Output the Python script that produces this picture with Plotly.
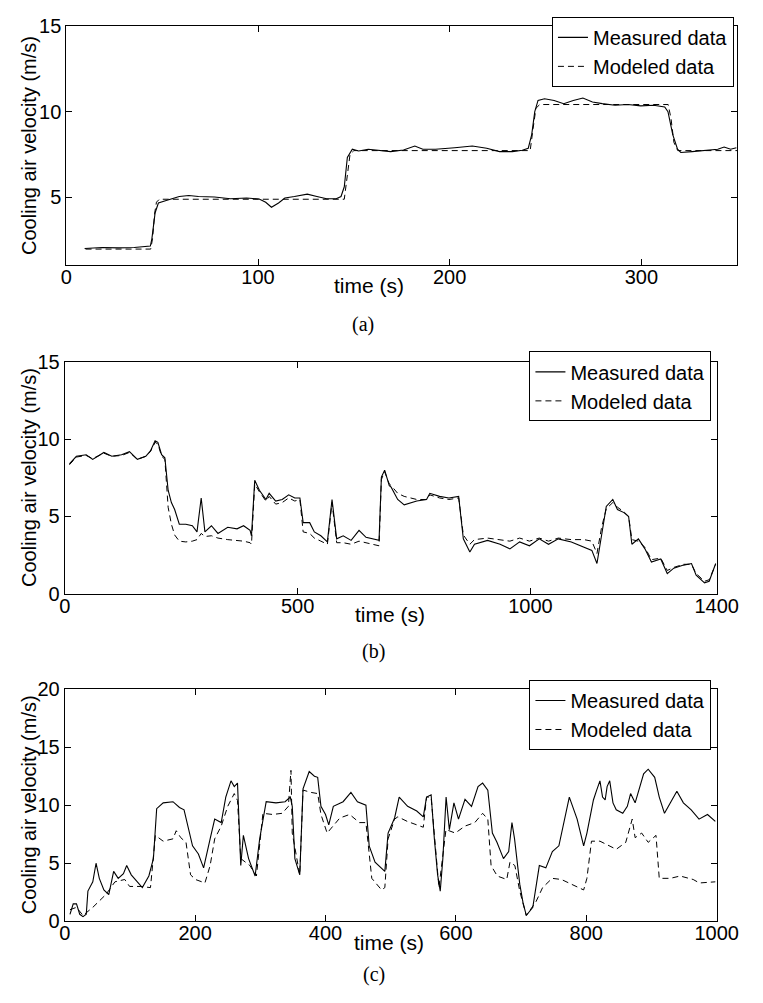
import plotly.graph_objects as go

W, H = 763, 1003

# ---------------- Panel (a) ----------------
t_a_meas = [9.5, 18.7, 27, 35.4, 43.8, 44.6, 46.3, 48, 52.1, 58.9, 63.9, 68.9, 77.3, 85.6, 94,
            100.6, 104, 107, 110.7, 114, 119, 125.7, 130.7, 135.8, 140.8, 143.3, 145, 146.6,
            149.2, 152.5, 157.5, 164, 169.2, 175.9, 181.8, 186, 192.6, 202.6, 211.8, 219.3, 226,
            232.7, 237.9, 241, 242.8, 244.4, 246.1, 249.5, 254.5, 259.5, 264.5, 269.5, 274.5,
            279.6, 286.3, 293, 299.7, 306.4, 312.2, 313.9, 316.4, 318.9, 320.6, 326.5, 333.2,
            339.9, 343.2, 346.6, 349.6]
v_a_meas = [1.98, 2.04, 2.02, 2.04, 2.13, 2.55, 4.08, 4.65, 4.8, 5.03, 5.09, 5.03, 5.0, 4.9, 4.94,
            4.88, 4.69, 4.4, 4.65, 4.94, 5.03, 5.17, 5.03, 4.9, 4.9, 5.03, 5.6, 7.32,
            7.8, 7.7, 7.8, 7.74, 7.66, 7.76, 7.99, 7.8, 7.8, 7.89, 7.99, 7.86, 7.66,
            7.66, 7.74, 7.86, 8.66, 10.0, 10.66, 10.76, 10.66, 10.47, 10.66, 10.8, 10.57,
            10.47, 10.38, 10.42, 10.34, 10.38, 10.28, 10.0, 8.66, 7.8, 7.61, 7.66, 7.74,
            7.8, 7.93, 7.8, 7.89]
t_a_mod = [10, 44, 45, 46, 47, 48.5, 145, 146.5, 148, 150, 242, 243.5, 245, 247, 314, 315.5, 317, 319, 350]
v_a_mod = [1.95, 1.95, 2.6, 4.0, 4.7, 4.87, 4.87, 6.2, 7.5, 7.72, 7.72, 9.0, 10.2, 10.42, 10.42, 9.6, 8.2, 7.72, 7.72]

# ---------------- Panel (b) ----------------
t_b = [10, 25, 46, 60, 84, 101, 122, 139, 156, 174,
       184, 194, 200, 208, 215, 222, 229, 236, 246, 260,
       274, 284, 293, 301, 315, 329, 350, 370, 384, 398,
       401, 408, 418, 432, 439, 453, 467, 481, 494, 505,
       512, 526, 536, 550, 564, 574, 584, 598, 615, 632,
       647, 661, 675, 680, 687, 697, 701, 715, 729, 756,
       777, 784, 805, 825, 846, 849, 856, 870, 880, 908,
       935, 956, 977, 998, 1019, 1039, 1060, 1088, 1115, 1132,
       1143, 1153, 1163, 1177, 1187, 1201, 1211, 1218, 1232, 1246,
       1260, 1280, 1294, 1308, 1329, 1346, 1356, 1374, 1384, 1398]
v_b_meas = [8.4, 8.9, 9.0, 8.7, 9.15, 8.9, 9.0, 9.2, 8.7, 8.9,
            9.25, 9.9, 9.8, 9.0, 8.8, 6.7, 5.9, 5.45, 4.5, 4.5,
            4.4, 4.0, 6.2, 4.0, 4.4, 3.9, 4.3, 4.2, 4.4, 4.1,
            3.75, 7.35, 6.7, 6.1, 6.5, 6.0, 6.1, 6.4, 6.2, 6.2,
            4.6, 4.6, 4.0, 3.75, 3.35, 6.1, 3.55, 3.75, 3.45, 4.1,
            3.65, 3.55, 3.45, 7.55, 8.0, 7.0, 6.9, 6.1, 5.75, 6.0,
            6.1, 6.5, 6.3, 6.2, 6.3, 5.45, 3.55, 2.7, 3.2, 3.45,
            3.2, 2.9, 3.35, 3.1, 3.55, 3.2, 3.55, 3.35, 3.0, 2.8,
            1.95, 3.95, 5.65, 6.1, 5.45, 5.25, 5.0, 3.2, 3.55, 2.9,
            2.05, 2.25, 1.3, 1.65, 1.85, 1.95, 1.2, 0.7, 0.8, 1.95]
v_b_mod = [8.35, 8.85, 8.95, 8.75, 9.1, 8.9, 8.95, 9.15, 8.7, 8.9,
           9.2, 9.8, 9.7, 8.9, 8.7, 5.6, 4.5, 3.8, 3.4, 3.35,
           3.4, 3.5, 3.9, 3.7, 3.75, 3.6, 3.5, 3.45, 3.4, 3.3,
           3.2, 7.1, 6.6, 6.0, 6.3, 5.8, 5.9, 6.2, 6.0, 6.1,
           4.0, 3.9, 3.6, 3.4, 3.2, 5.9, 3.3, 3.3, 3.2, 3.4,
           3.3, 3.2, 3.1, 7.4, 7.9, 7.1, 7.0, 6.5, 6.3, 6.1,
           6.1, 6.4, 6.2, 6.1, 6.2, 5.5, 3.8, 3.2, 3.5, 3.6,
           3.5, 3.4, 3.6, 3.4, 3.6, 3.4, 3.6, 3.5, 3.5, 3.4,
           2.6, 4.3, 5.5, 5.9, 5.6, 5.3, 5.0, 3.5, 3.4, 3.0,
           2.2, 2.3, 1.5, 1.7, 1.9, 1.9, 1.3, 0.8, 0.9, 1.9]

# ---------------- Panel (c) ----------------
t_c_meas = [8, 13, 18, 23, 28, 33, 35.5, 43, 48, 53,
            60, 67.5, 75, 82, 90, 95, 102, 112, 119, 129,
            136, 141, 151, 166, 176, 183, 188, 196, 205, 213,
            223, 230, 240, 247, 255, 260, 265, 270, 274, 282,
            292, 299, 309, 324, 338, 346, 349, 353, 360.5, 365.5,
            375, 383, 388, 393, 400, 405, 412, 427, 439, 449,
            462, 467, 476, 484, 491, 496, 506, 513, 526, 540,
            550, 555, 562, 567, 572, 576, 580, 585, 590, 597,
            604, 614, 624, 634, 641, 649, 656, 663, 673, 681,
            686, 690, 698, 703, 708, 718, 728, 738, 748, 758,
            767, 774, 786, 796, 801, 811, 816, 821, 825, 829,
            832, 836, 841, 846, 856, 863, 868, 875, 888, 895,
            905, 912, 920, 929, 939, 949, 961, 973, 986, 998]
v_c_meas = [0.6, 1.5, 1.5, 0.6, 0.4, 0.6, 2.6, 3.4, 5.0, 3.7,
            2.7, 2.3, 4.3, 3.7, 4.1, 4.8, 4.0, 3.4, 2.9, 3.9,
            5.4, 9.7, 10.2, 10.3, 9.8, 9.6, 8.5, 6.5, 5.8, 4.6,
            7.1, 8.8, 8.5, 10.7, 12.1, 11.6, 11.9, 4.8, 7.4, 5.4,
            3.9, 7.1, 10.3, 10.2, 10.3, 10.7, 9.9, 5.4, 4.0, 11.4,
            12.9, 12.5, 12.4, 9.9, 9.2, 8.3, 9.9, 10.3, 11.1, 10.3,
            10.0, 6.5, 5.1, 4.7, 4.3, 7.6, 8.9, 10.7, 9.9, 9.5,
            9.0, 10.7, 10.9, 7.1, 4.0, 2.6, 5.4, 10.7, 7.9, 10.2,
            8.8, 10.5, 9.9, 11.6, 11.9, 11.3, 7.6, 6.8, 5.4, 6.0,
            8.5, 7.1, 3.2, 1.6, 0.5, 1.2, 4.8, 4.6, 6.0, 6.5,
            8.8, 10.7, 8.8, 6.5, 7.6, 10.45, 11.3, 12.1, 10.7, 10.45,
            11.6, 12.1, 10.2, 9.6, 9.3, 9.9, 11.0, 10.2, 12.7, 13.1,
            12.4, 10.7, 9.3, 10.2, 11.2, 10.2, 9.6, 8.8, 9.2, 8.6]
t_c_mod = [8, 18, 28, 43, 63, 77, 92, 99.5, 117, 131.5,
           139, 151, 166, 171, 178, 186, 193, 200.5, 215, 223,
           230, 240, 250, 260, 265, 270, 284, 294, 304, 319,
           333.5, 343, 347, 349, 360.5, 365.5, 378, 388, 393, 402.5,
           422, 437, 452, 462, 471, 486, 491, 496, 506, 511,
           525.6, 540, 550, 555, 562, 574, 584.8, 599, 614, 629,
           641, 649, 654, 663.5, 678, 683, 690.5, 698, 708, 723,
           733, 747.7, 762, 777, 796, 801, 808, 821, 846, 860.6,
           870.5, 875, 885, 895, 907, 912, 929, 944, 964, 973.5, 998]
v_c_mod = [1.0, 1.2, 0.5, 1.2, 2.3, 3.4, 3.6, 3.0, 3.0, 2.9,
           7.4, 6.9, 7.1, 7.8, 7.2, 6.8, 4.0, 3.6, 3.3, 4.8,
           7.1, 8.2, 9.9, 11.0, 10.4, 5.4, 4.8, 3.9, 9.3, 9.2,
           9.3, 9.9, 13.0, 7.6, 4.0, 11.3, 11.1, 11.0, 9.2, 7.6,
           8.9, 9.2, 8.5, 8.5, 3.7, 2.7, 2.9, 7.1, 8.8, 9.0,
           8.6, 8.3, 8.1, 10.7, 10.7, 2.9, 7.9, 7.6, 8.2, 8.5,
           9.3, 8.8, 4.8, 3.9, 3.6, 5.1, 4.8, 2.6, 0.5, 1.7,
           2.9, 3.7, 3.6, 3.2, 2.7, 3.7, 6.9, 6.9, 6.2, 6.8,
           8.8, 7.2, 7.6, 6.8, 7.4, 3.7, 3.7, 3.9, 3.6, 3.3, 3.4]

assert len(t_a_meas) == len(v_a_meas) and len(t_a_mod) == len(v_a_mod)
assert len(t_b) == len(v_b_meas) == len(v_b_mod)
assert len(t_c_meas) == len(v_c_meas) and len(t_c_mod) == len(v_c_mod)

SANS = "Liberation Sans, Arial, Helvetica, sans-serif"
SERIF = "Liberation Serif, Times New Roman, serif"

def px(x):
    return x / W

def py(y):
    return 1 - y / H

# panel geometry in pixels: left, right, top, bottom
panels = [
    dict(l=62.7, r=759.0, t=15.7, b=260.0, xr=[0, 350], yr=[1, 15],
         xt=[0, 100, 200, 300], yt=[5, 10, 15],
         xlab=(376.5, 280.5), cap=(371, 321), cap_text="(a)",
         leg=(755.7, 6)),
    dict(l=61.0, r=737.7, t=359.0, b=595.7, xr=[0, 1400], yr=[0, 15],
         xt=[0, 500, 1000, 1400], yt=[0, 5, 10, 15],
         xlab=(399, 617), cap=(381.5, 655), cap_text="(b)",
         leg=(732.3, 348)),
    dict(l=61.0, r=737.7, t=693.3, b=930.7, xr=[0, 1000], yr=[0, 20],
         xt=[0, 200, 400, 600, 800, 1000], yt=[0, 5, 10, 15, 20],
         xlab=(398, 952.7), cap=(382.5, 985), cap_text="(c)",
         leg=(732.3, 684)),
]

series = [
    (t_a_meas, v_a_meas, t_a_mod, v_a_mod),
    (t_b, v_b_meas, t_b, v_b_mod),
    (t_c_meas, v_c_meas, t_c_mod, v_c_mod),
]

fig = go.Figure()
annotations = []
layout = dict(
    width=W, height=H, autosize=False,
    margin=dict(l=0, r=0, t=0, b=0),
    paper_bgcolor="white", plot_bgcolor="white",
    font=dict(family=SANS, size=20, color="black"),
)

for i, (p, s) in enumerate(zip(panels, series)):
    n = "" if i == 0 else str(i + 1)
    xa, ya = "x" + n, "y" + n
    leg = "legend" + n
    tm, vm, tmod, vmod = s
    fig.add_trace(go.Scatter(x=tm, y=vm, mode="lines", name="Measured data",
                             line=dict(color="black", width=1.1),
                             xaxis=xa, yaxis=ya, legend=leg))
    fig.add_trace(go.Scatter(x=tmod, y=vmod, mode="lines", name="Modeled data",
                             line=dict(color="black", width=1, dash="6px,4px"),
                             xaxis=xa, yaxis=ya, legend=leg))
    axcommon = dict(showline=True, mirror="ticks", linecolor="black", linewidth=1.2,
                    ticks="inside", ticklen=6, tickcolor="black", tickwidth=1,
                    showgrid=False, zeroline=False,
                    tickfont=dict(family=SANS, size=20, color="black"))
    layout["xaxis" + n] = dict(axcommon, domain=[px(p["l"]), px(p["r"])], range=p["xr"],
                               tickvals=p["xt"], anchor=ya, ticklabelstandoff=-6)
    layout["yaxis" + n] = dict(axcommon, domain=[py(p["b"]), py(p["t"])], range=p["yr"],
                               tickvals=p["yt"], anchor=xa)
    layout[leg] = dict(x=px(p["leg"][0]), y=py(p["leg"][1]), xanchor="right", yanchor="top",
                       xref="paper", yref="paper",
                       bgcolor="white", bordercolor="black", borderwidth=1,
                       font=dict(family=SANS, size=20, color="black"),
                       traceorder="normal")
    # y-axis title
    annotations.append(dict(x=px(24), y=py((p["t"] + p["b"]) / 2), xref="paper", yref="paper",
                            text="Cooling air velocity (m/s)", textangle=-90, showarrow=False,
                            xanchor="center", yanchor="middle",
                            font=dict(family=SANS, size=20, color="black")))
    # x-axis title
    annotations.append(dict(x=px(p["xlab"][0]), y=py(p["xlab"][1]), xref="paper", yref="paper",
                            text="time (s)", showarrow=False, xanchor="center", yanchor="middle",
                            font=dict(family=SANS, size=21, color="black")))
    # caption
    annotations.append(dict(x=px(p["cap"][0]), y=py(p["cap"][1]), xref="paper", yref="paper",
                            text=p["cap_text"], showarrow=False, xanchor="center", yanchor="middle",
                            font=dict(family=SERIF, size=20, color="black")))

layout["annotations"] = annotations
fig.update_layout(**layout)
fig.write_html("out.html")
